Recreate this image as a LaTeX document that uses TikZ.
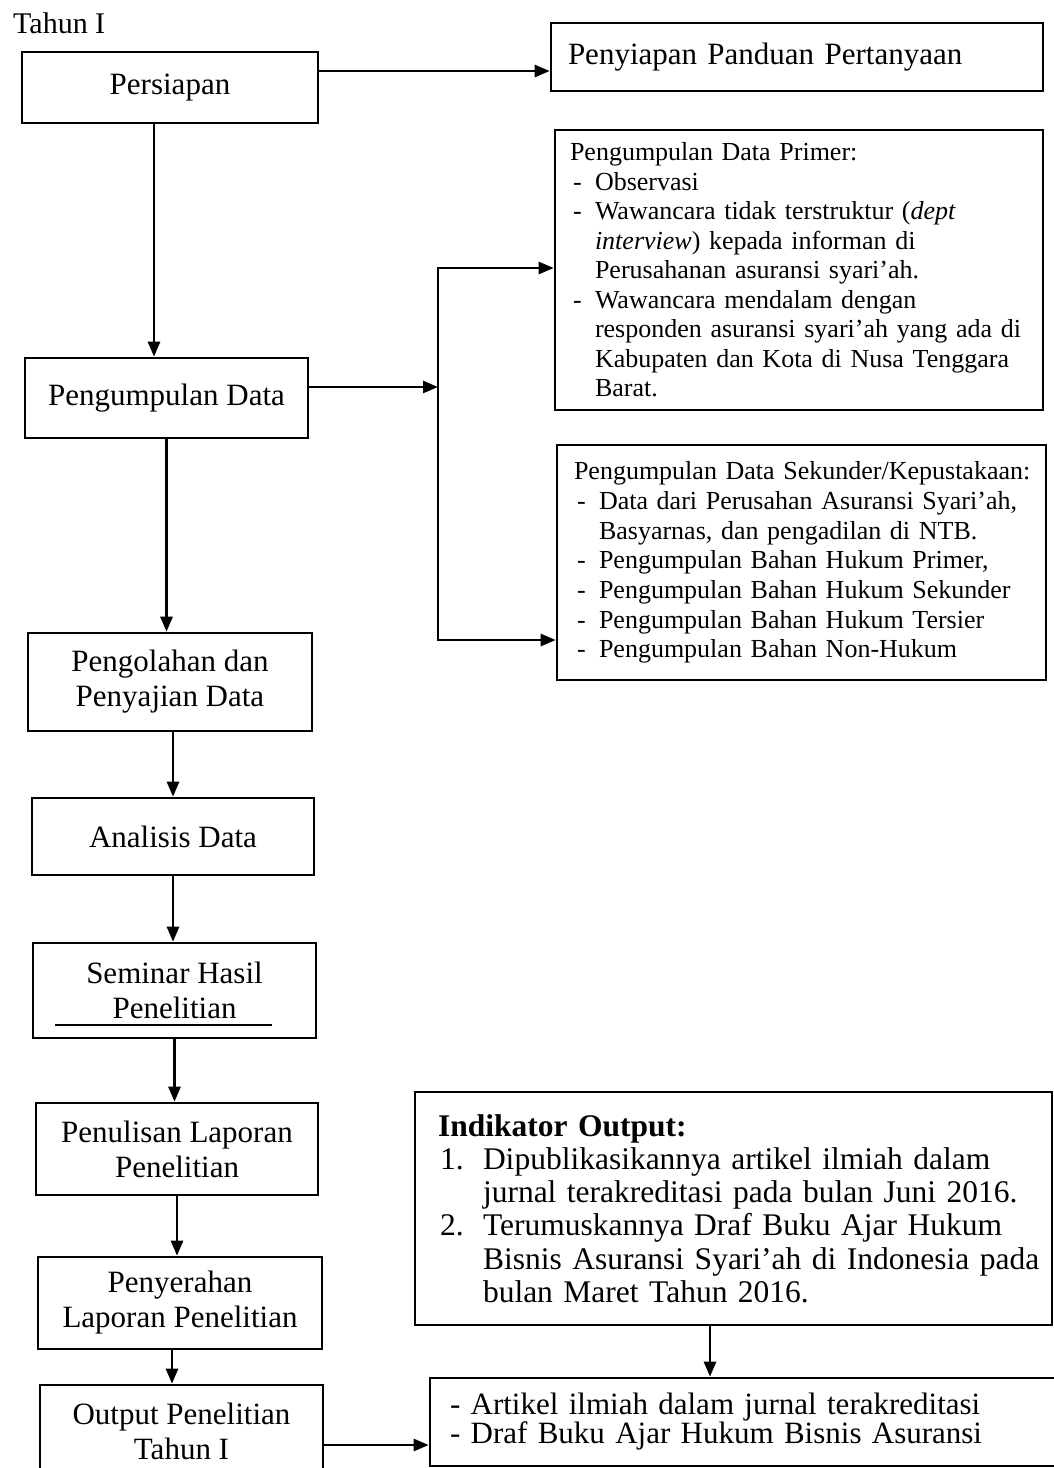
\documentclass[tikz,border=0pt]{standalone}
\usepackage{fontspec}
\setmainfont{Liberation Serif}
\usetikzlibrary{arrows.meta,calc}
\newcommand{\itm}[1]{\mbox{\makebox[25pt][l]{\hspace{3pt}-}#1}}
\newcommand{\cnt}[1]{\mbox{\hspace*{25pt}#1}}
\newcommand{\numi}[2]{\mbox{\makebox[45pt][l]{\hspace{2pt}#1}#2}}
\newcommand{\cnti}[1]{\mbox{\hspace*{45pt}#1}}
\begin{document}
\begin{tikzpicture}[x=1pt,y=-1pt,
  box/.style={draw, line width=2.6pt, inner sep=0pt, align=center, font=\fontsize{31}{35}\selectfont},
  lbox/.style={draw, line width=2.6pt, inner ysep=0pt, align=left},
  arr/.style={line width=2.6pt, -{Triangle[length=15pt,width=12pt]}},
  ln/.style={line width=2.6pt}]
\useasboundingbox (0,0) rectangle (1054,1468);
\fill[white] (0,0) rectangle (1054,1468);
\clip (0,0) rectangle (1054,1468);

\node[anchor=base west, font=\fontsize{30}{34}\selectfont, inner sep=0pt] (title) at (13,33) {Tahun I};

% left column
\node[box, minimum width=296pt, minimum height=71pt] (per) at (170,87.5) {Persiapan};
\node[box, minimum width=283pt, minimum height=80pt] (pd) at (166.5,398) {Pengumpulan Data};
\node[box, minimum width=284pt, minimum height=98pt] (pg) at (170,682) {Pengolahan dan\\Penyajian Data};
\node[box, minimum width=282pt, minimum height=77pt] (an) at (173,836.5) {Analisis Data};
\node[box, minimum width=283pt, minimum height=95pt] (sem) at (174.5,990.5) {Seminar Hasil\\Penelitian};
\node[box, minimum width=282pt, minimum height=92pt] (pen) at (177,1149) {Penulisan Laporan\\Penelitian};
\node[box, minimum width=284pt, minimum height=92pt] (pny) at (180,1303) {Penyerahan\\Laporan Penelitian};
\node[box, minimum width=283pt, minimum height=92pt] (out) at (181.5,1431) {Output Penelitian\\Tahun I};

% right column
\node[lbox, minimum width=492pt, minimum height=68pt, text width=458pt, inner xsep=17pt,
      font=\fontsize{31}{35}\selectfont] (pp) at (797,57) {\raisebox{4pt}{Penyiapan Panduan Pertanyaan}};

\node[lbox, minimum width=488pt, minimum height=280pt, text width=458pt, inner xsep=15pt,
      font=\fontsize{26}{29.5}\selectfont] (prim) at (799,270) {%
\mbox{Pengumpulan Data Primer:}\\
\itm{Observasi}\\
\itm{Wawancara tidak terstruktur (\textit{dept}}\\
\cnt{\textit{interview}) kepada informan di}\\
\cnt{Perusahanan asuransi syari’ah.}\\
\itm{Wawancara mendalam dengan}\\
\cnt{responden asuransi syari’ah yang ada di}\\
\cnt{Kabupaten dan Kota di Nusa Tenggara}\\
\cnt{Barat.}};

\node[lbox, minimum width=489pt, minimum height=235pt, text width=455pt, inner xsep=17pt,
      font=\fontsize{26}{29.7}\selectfont] (sek) at (801.5,562.5) {%
\mbox{Pengumpulan Data Sekunder/Kepustakaan:}\\
\itm{Data dari Perusahan Asuransi Syari’ah,}\\
\cnt{Basyarnas, dan pengadilan di NTB.}\\
\itm{Pengumpulan Bahan Hukum Primer,}\\
\itm{Pengumpulan Bahan Hukum Sekunder}\\
\itm{Pengumpulan Bahan Hukum Tersier}\\
\itm{Pengumpulan Bahan Non-Hukum}};

\node[lbox, minimum width=637pt, minimum height=233pt, text width=591pt, inner xsep=23pt,
      font=\fontsize{31.5}{33.2}\selectfont] (ind) at (733.5,1208.5) {%
\mbox{\textbf{Indikator Output:}}\\
\numi{1.}{Dipublikasikannya artikel ilmiah dalam}\\
\cnti{jurnal terakreditasi pada bulan Juni 2016.}\\
\numi{2.}{Terumuskannya Draf Buku Ajar Hukum}\\
\cnti{Bisnis Asuransi Syari’ah di Indonesia pada}\\
\cnti{bulan Maret Tahun 2016.}};

\node[lbox, minimum width=630pt, minimum height=88pt, text width=590pt, inner xsep=20pt,
      font=\fontsize{31}{29}\selectfont] (bot) at (745,1422) {%
\mbox{- Artikel ilmiah dalam jurnal terakreditasi}\\
\mbox{- Draf Buku Ajar Hukum Bisnis Asuransi}};

% underline in seminar box
\draw[line width=2.2pt] (55,1025) -- (272,1025);

% connectors
\draw[arr] ([yshift=16.5pt]per.east) -- ([yshift=16.5pt]per.east -| pp.west);
\draw[arr] ([xshift=-16pt]per.south) -- ([xshift=-16pt]per.south |- pd.north);
\draw[arr] (pd.south) -- (pd.south |- pg.north);
\draw[arr] (an.north |- pg.south) -- (an.north);
\draw[arr] (an.south) -- (an.south |- sem.north);
\draw[arr] (sem.south) -- (sem.south |- pen.north);
\draw[arr] (pen.south) -- (pen.south |- pny.north);
\draw[arr] ([xshift=-8pt]pny.south) -- ([xshift=-8pt]pny.south |- out.north);

\coordinate (j) at (438,387);
\coordinate (jt) at (438,268);
\coordinate (jb) at (438,640);
\draw[arr] (pd.east |- j) -- (j);
\draw[ln, line cap=rect] (jt) -- (jb);
\draw[arr] (jt) -- (jt -| prim.west);
\draw[arr] (jb) -- (jb -| sek.west);

\draw[arr] ([xshift=-23.5pt]ind.south) -- ([xshift=-23.5pt]ind.south |- bot.north);
\draw[arr] ([yshift=-14pt]out.east) -- ([yshift=-14pt]out.east -| bot.west);
\end{tikzpicture}
\end{document}
